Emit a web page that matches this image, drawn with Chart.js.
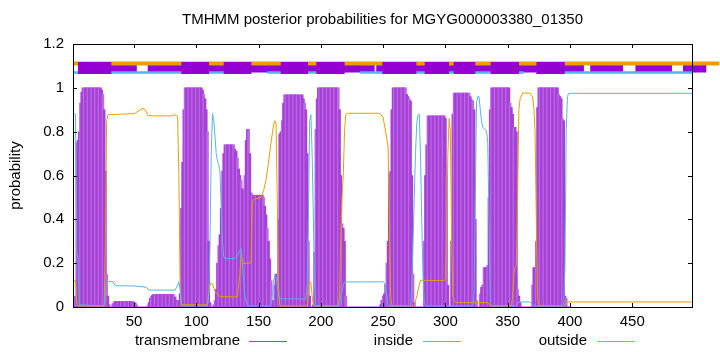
<!DOCTYPE html>
<html>
<head>
<meta charset="utf-8">
<script src="https://cdn.jsdelivr.net/npm/chart.js@4.4.1/dist/chart.umd.min.js"></script>
<style>
  html, body { margin: 0; padding: 0; background: #fff; }
  canvas { display: block; }
</style>
</head>
<body>
<canvas id="myChart" width="720" height="352"></canvas>
<script>
// 제목, 축
let titleText = "TMHMM posterior probabilities for MGYG000003380_01350";
let yLabel = "probability";
let seqLength = 498;
let xTicks = [50, 100, 150, 200, 250, 300, 350, 400, 450];
let yTicks = [0, 0.2, 0.4, 0.6, 0.8, 1, 1.2];
let yTickLabels = ["0", "0.2", "0.4", "0.6", "0.8", "1", "1.2"];
let legendLabels = ["transmembrane", "inside", "outside"];

// transmembrane probability, residue 1..400 (rest is 0)
let tmProb = [
  0, 0, 0.05, 0.75, 0.76, 0.8, 0.93, 0.98, 1, 1,
  1, 1, 1, 1, 1, 1, 1, 1, 1, 1,
  1, 1, 1, 0.99, 0.97, 0.9, 0.62, 0.15, 0.05, 0.01,
  0, 0, 0.015, 0.022, 0.026, 0.026, 0.026, 0.026, 0.026, 0.026,
  0.026, 0.026, 0.026, 0.026, 0.026, 0.026, 0.026, 0.026, 0.026, 0.022,
  0.018, 0.01, 0, 0, 0, 0, 0, 0, 0, 0,
  0.005, 0.02, 0.04, 0.05, 0.055, 0.058, 0.058, 0.058, 0.058, 0.058,
  0.058, 0.058, 0.058, 0.058, 0.058, 0.058, 0.058, 0.058, 0.058, 0.058,
  0.058, 0.055, 0.045, 0.03, 0.02, 0.03, 0.06, 0.45, 0.66, 0.9,
  1, 1, 1, 1, 1, 1, 1, 1, 1, 1,
  1, 1, 1, 1, 0.99, 0.97, 0.95, 0.9, 0.8, 0.3,
  0.02, 0, 0, 0.01, 0.03, 0.08, 0.2, 0.28, 0.33, 0.45,
  0.62, 0.7, 0.74, 0.74, 0.74, 0.74, 0.74, 0.74, 0.74, 0.74,
  0.72, 0.71, 0.68, 0.63, 0.6, 0.58, 0.54, 0.53, 0.6, 0.76,
  0.81, 0.81, 0.7, 0.52, 0.51, 0.51, 0.51, 0.51, 0.51, 0.51,
  0.51, 0.51, 0.51, 0.5, 0.46, 0.42, 0.36, 0.3, 0.22, 0.12,
  0.03, 0.03, 0.1, 0.15, 0.12, 0.4, 0.79, 0.8, 0.85, 0.93,
  0.968, 0.968, 0.968, 0.968, 0.968, 0.968, 0.968, 0.968, 0.968, 0.968,
  0.968, 0.968, 0.968, 0.968, 0.968, 0.95, 0.93, 0.9, 0.7, 0.3,
  0.05, 0, 0, 0.01, 0.25, 0.81, 0.95, 1, 1, 1,
  1, 1, 1, 1, 1, 1, 1, 1, 1, 1,
  1, 1, 1, 1, 0.9, 0.6, 0.38, 0.36, 0.3, 0.05,
  0, 0, 0, 0, 0, 0, 0, 0, 0, 0,
  0, 0, 0, 0, 0, 0, 0, 0, 0, 0,
  0, 0, 0, 0, 0, 0, 0, 0.01, 0.03, 0.05,
  0.06, 0.1, 0.2, 0.3, 0.61, 0.62, 0.9, 1, 1, 1,
  1, 1, 1, 1, 1, 1, 1, 1, 0.97, 0.96,
  0.95, 0.94, 0.6, 0.15, 0.02, 0, 0, 0, 0, 0,
  0, 0, 0.3, 0.6, 0.74, 0.872, 0.872, 0.872, 0.872, 0.872,
  0.872, 0.872, 0.872, 0.872, 0.872, 0.872, 0.872, 0.872, 0.872, 0.86,
  0.6, 0.1, 0, 0, 0.3, 0.88, 0.976, 0.976, 0.976, 0.976,
  0.976, 0.976, 0.976, 0.976, 0.976, 0.976, 0.976, 0.976, 0.976, 0.96,
  0.945, 0.94, 0.9, 0.4, 0.03, 0, 0, 0.06, 0.09, 0.1,
  0.18, 0.18, 0.18, 0.19, 0.5, 0.9, 1, 1, 1, 1,
  1, 1, 1, 1, 1, 1, 1, 1, 1, 1,
  1, 0.93, 0.91, 0.88, 0.82, 0.82, 0.8, 0.08, 0.05, 0.02,
  0, 0, 0, 0, 0, 0, 0, 0, 0, 0.1,
  0.18, 0.18, 0.3, 0.91, 1, 1, 1, 1, 1, 1,
  1, 1, 1, 1, 1, 1, 1, 1, 1, 1,
  0.97, 0.96, 0.95, 0.86, 0.85, 0.05, 0.04, 0, 0, 0
];

// inside probability [residue, p]
let insideLine = [
  [1, 0.884], [3, 0.88], [4, 0.25], [5, 0.22], [6, 0.01], [26, 0.005], [27, 0.05], [28, 0.115],
  [33, 0.116], [35, 0.097], [50, 0.096], [60, 0.09], [62, 0.077], [83, 0.077], [85, 0.1], [86, 0.115],
  [87, 0.08], [88, 0.02], [89, 0.005], [109, 0.005], [110, 0.05], [111, 0.3], [112, 0.7], [113, 0.884],
  [114, 0.85], [115, 0.78], [116, 0.7], [117, 0.665], [118, 0.65], [119, 0.62], [120, 0.45], [121, 0.3],
  [122, 0.23], [123, 0.221], [131, 0.221], [134, 0.245], [136, 0.267], [137, 0.2], [139, 0.05], [141, 0.005],
  [160, 0.005], [161, 0.05], [162, 0.12], [163, 0.145], [164, 0.14], [166, 0.05], [167, 0.038], [188, 0.036],
  [189, 0.1], [190, 0.4], [191, 0.85], [192, 0.877], [193, 0.7], [194, 0.4], [195, 0.1], [196, 0.005],
  [215, 0.005], [216, 0.05], [218, 0.1], [219, 0.114], [250, 0.115], [251, 0.11], [253, 0.05], [254, 0.005],
  [272, 0.005], [273, 0.1], [274, 0.3], [275, 0.5], [276, 0.7], [277, 0.84], [278, 0.875], [279, 0.88],
  [280, 0.7], [281, 0.4], [282, 0.15], [283, 0.02], [284, 0.005], [322, 0.005], [323, 0.05], [324, 0.5],
  [325, 0.93], [326, 0.96], [327, 0.96], [328, 0.9], [329, 0.85], [330, 0.82], [333, 0.805], [334, 0.75],
  [335, 0.4], [336, 0.02], [337, 0.005], [357, 0.005], [358, 0.02], [359, 0.023], [368, 0.023], [370, 0.01],
  [372, 0.005], [395, 0.005], [396, 0.2], [397, 0.8], [398, 0.96], [399, 0.975], [498, 0.975]
];

// outside probability [residue, p]
let outsideLine = [
  [1, 0.12], [3, 0.12], [4, 0.02], [5, 0.005], [26, 0.005], [27, 0.3], [28, 0.85], [29, 0.877],
  [40, 0.88], [50, 0.882], [54, 0.895], [57, 0.907], [59, 0.9], [61, 0.875], [65, 0.872], [80, 0.872],
  [83, 0.877], [85, 0.87], [86, 0.6], [87, 0.1], [88, 0.01], [109, 0.01], [110, 0.07], [111, 0.107],
  [113, 0.105], [115, 0.07], [117, 0.06], [119, 0.047], [133, 0.046], [134, 0.1], [135, 0.15], [136, 0.236],
  [137, 0.21], [138, 0.198], [141, 0.2], [144, 0.2], [145, 0.48], [146, 0.49], [152, 0.5], [154, 0.53],
  [156, 0.58], [158, 0.66], [160, 0.75], [162, 0.83], [163, 0.85], [164, 0.84], [165, 0.5], [166, 0.1],
  [167, 0.005], [189, 0.005], [190, 0.06], [191, 0.114], [192, 0.114], [193, 0.05], [194, 0.005], [214, 0.005],
  [215, 0.05], [216, 0.3], [217, 0.5], [218, 0.6], [219, 0.8], [220, 0.877], [222, 0.884], [246, 0.884],
  [248, 0.88], [250, 0.865], [252, 0.8], [254, 0.73], [255, 0.4], [256, 0.05], [257, 0.005], [275, 0.005],
  [277, 0.05], [279, 0.1], [280, 0.122], [299, 0.12], [300, 0.13], [301, 0.35], [302, 0.7], [303, 0.86],
  [304, 0.8], [305, 0.3], [306, 0.05], [308, 0.02], [334, 0.02], [336, 0.005], [353, 0.005], [354, 0.05],
  [355, 0.15], [356, 0.18], [357, 0.19], [358, 0.5], [359, 0.9], [360, 0.95], [362, 0.976], [368, 0.976],
  [370, 0.96], [371, 0.91], [372, 0.8], [373, 0.4], [374, 0.05], [375, 0.005], [395, 0.005], [396, 0.01],
  [397, 0.023], [498, 0.023]
];

// 위쪽 토폴로지 막대 (residue 구간)
let tmSegments = [[5, 31.8], [88, 110.2], [122, 144.2], [167.8, 189.7], [196.4, 219.1],
  [249.4, 276.7], [283.4, 302.9], [306.6, 324], [336.4, 359.1], [373.1, 395.8]];
let tmBandSegments = [[5, 52.2], [61, 243.2], [244.5, 411.2], [416.3, 442.6], [452.6, 481.9], [490.8, 509.5]];
let insideSegments = [[1, 144.2], [157, 219.1], [231.2, 362.9], [373.1, 498]];
let outsideSegments = [[1, 520]];

let purple = "#9400d3";
let tmDark = "#a741d8";
let tmLight = "#bb6ae4";
let blue = "#56b4e9";
let orange = "#e69f00";
let font = '"Liberation Sans", Arial, sans-serif';

function toPoints(pairs) {
  return pairs.map(p => ({ x: p[0], y: p[1] }));
}

function bandPoints(segs, level) {
  let pts = [];
  segs.forEach(s => {
    pts.push({ x: s[0], y: level }, { x: s[1], y: level }, { x: s[1], y: null });
  });
  return pts;
}

function bandDataset(segs, level, color, width, order) {
  return {
    type: "line", data: bandPoints(segs, level), borderColor: color, borderWidth: width,
    borderCapStyle: "butt", pointRadius: 0, spanGaps: false, clip: false, order: order
  };
}

let datasets = [
  bandDataset(tmSegments, 1.09, purple, 12, 0),
  bandDataset(insideSegments, 1.07, blue, 2.6, 1),
  bandDataset(outsideSegments, 1.111, orange, 4, 2),
  bandDataset(tmBandSegments, 1.09, purple, 9, 3),
  {
    type: "line", label: "inside", data: toPoints(insideLine), borderColor: blue,
    borderWidth: 1, pointRadius: 0, tension: 0, order: 4
  },
  {
    type: "line", label: "outside", data: toPoints(outsideLine), borderColor: orange,
    borderWidth: 1, pointRadius: 0, tension: 0, order: 5
  },
  {
    type: "bar", label: "transmembrane", data: tmProb.map((v, i) => ({ x: i + 1, y: v })),
    backgroundColor: c => (c.dataIndex % 3 === 0 ? tmLight : tmDark),
    borderWidth: 0, barThickness: 2, order: 10
  }
];

// 테두리, 눈금, 제목, 범례
let decor = {
  id: "decor",
  afterDatasetsDraw(chart) {
    let c = chart.ctx, a = chart.chartArea, xs = chart.scales.x, ys = chart.scales.y;
    c.save();
    c.strokeStyle = "#000";
    c.lineWidth = 1;
    c.beginPath();
    xTicks.forEach(v => {
      let px = Math.round(xs.getPixelForValue(v)) + 0.5;
      c.moveTo(px, a.bottom); c.lineTo(px, a.bottom - 4);
      c.moveTo(px, a.top); c.lineTo(px, a.top + 4);
    });
    yTicks.forEach(v => {
      let py = Math.round(ys.getPixelForValue(v)) + 0.5;
      c.moveTo(a.left, py); c.lineTo(a.left + 4, py);
      c.moveTo(a.right, py); c.lineTo(a.right - 4, py);
    });
    c.stroke();
    c.strokeRect(Math.round(a.left) + 0.5, Math.round(a.top) + 0.5,
      Math.round(a.right - a.left), Math.round(a.bottom - a.top));
    c.restore();
  },
  afterDraw(chart) {
    let c = chart.ctx, a = chart.chartArea;
    c.save();
    c.fillStyle = "#000";
    c.font = "15px " + font;
    c.textBaseline = "middle";
    c.textAlign = "center";
    c.fillText(titleText, (a.left + a.right) / 2, 20);

    c.save();
    c.translate(16, (a.top + a.bottom) / 2);
    c.rotate(-Math.PI / 2);
    c.fillText(yLabel, 0, 0);
    c.restore();

    let items = [
      { text: legendLabels[0], color: "#a040d0", right: 240, x0: 249, x1: 287 },
      { text: legendLabels[1], color: blue, right: 413, x0: 423, x1: 461 },
      { text: legendLabels[2], color: orange, right: 587, x0: 597, x1: 635 }
    ];
    c.textAlign = "right";
    items.forEach(it => {
      c.fillText(it.text, it.right, 341);
      c.strokeStyle = it.color;
      c.lineWidth = 1;
      c.beginPath();
      c.moveTo(it.x0, 341.5);
      c.lineTo(it.x1, 341.5);
      c.stroke();
    });
    c.restore();
  }
};

let ctx = document.getElementById("myChart");
new Chart(ctx, {
  type: "bar",
  data: { datasets: datasets },
  options: {
    responsive: false,
    animation: false,
    layout: { padding: { top: 44, right: 28, left: 0, bottom: 0 } },
    scales: {
      x: {
        type: "linear", min: 1, max: seqLength, offset: false,
        afterFit: s => { s.height = 45; },
        afterBuildTicks: s => { s.ticks = xTicks.map(v => ({ value: v })); },
        grid: { display: false, drawTicks: false },
        border: { display: false },
        ticks: { color: "#000", font: { family: font, size: 15 }, padding: 6, maxRotation: 0, autoSkip: false }
      },
      y: {
        min: 0, max: 1.2,
        afterFit: s => { s.width = 73; },
        afterBuildTicks: s => { s.ticks = yTicks.map(v => ({ value: v })); },
        grid: { display: false, drawTicks: false },
        border: { display: false },
        ticks: { color: "#000", font: { family: font, size: 15 }, padding: 9, callback: (v, i) => yTickLabels[i] }
      }
    },
    plugins: { legend: { display: false }, tooltip: { enabled: false }, title: { display: false } }
  },
  plugins: [decor]
});
</script>
</body>
</html>
